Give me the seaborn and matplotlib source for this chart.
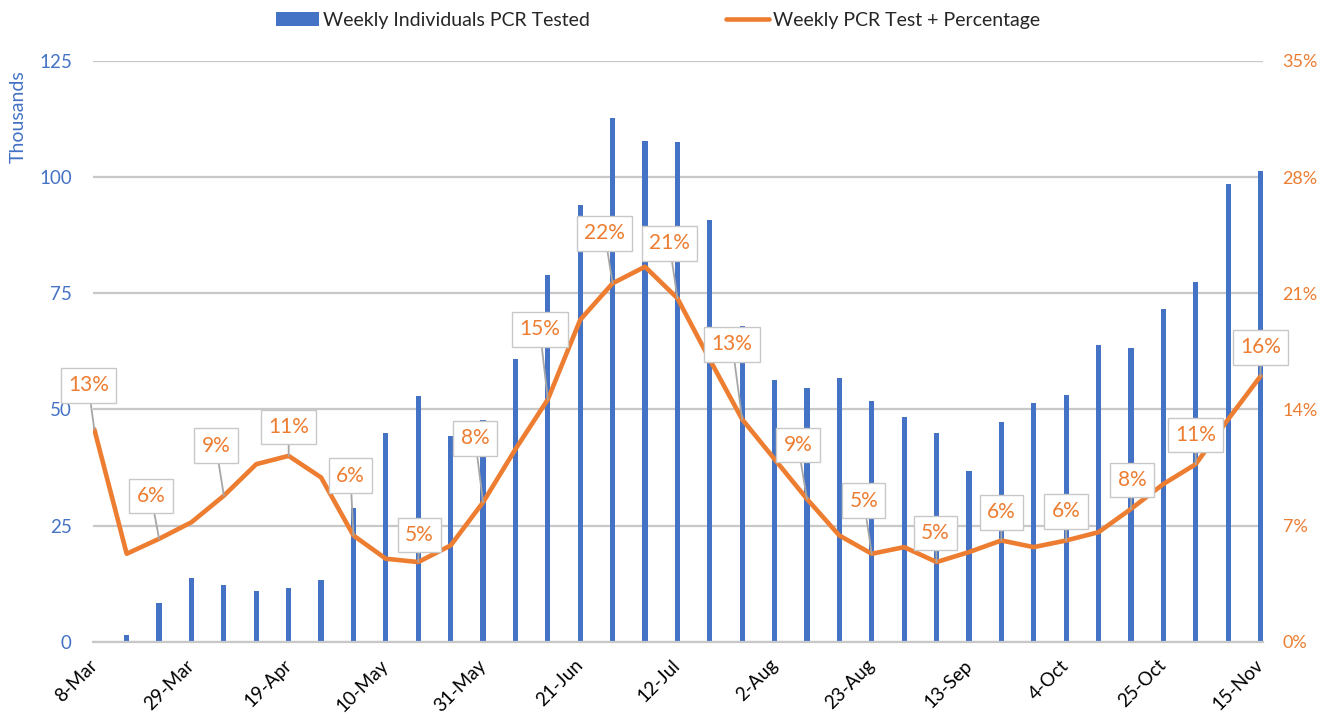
import numpy as np
import pandas as pd
import matplotlib
matplotlib.use("Agg")
import matplotlib.pyplot as plt
import seaborn as sns
from matplotlib.ticker import FuncFormatter

# ---- data ----
weeks = ["8-Mar", "15-Mar", "22-Mar", "29-Mar", "5-Apr", "12-Apr", "19-Apr", "26-Apr",
         "3-May", "10-May", "17-May", "24-May", "31-May", "7-Jun", "14-Jun", "21-Jun",
         "28-Jun", "5-Jul", "12-Jul", "19-Jul", "26-Jul", "2-Aug", "9-Aug", "16-Aug",
         "23-Aug", "30-Aug", "6-Sep", "13-Sep", "20-Sep", "27-Sep", "4-Oct", "11-Oct",
         "18-Oct", "25-Oct", "1-Nov", "8-Nov", "15-Nov"]
tested_thousands = [0.0, 1.4, 8.3, 13.8, 12.3, 10.9, 11.5, 13.2,
                    28.8, 44.9, 52.8, 44.2, 47.8, 60.9, 78.9, 93.9,
                    112.7, 107.7, 107.5, 90.8, 67.9, 56.3, 54.7, 56.7,
                    51.9, 48.4, 45.0, 36.8, 47.2, 51.3, 53.0, 63.8,
                    63.2, 71.6, 77.4, 98.5, 101.3]
positive_pct = [12.8, 5.3, 6.2, 7.2, 8.8, 10.7, 11.2, 9.9,
                6.4, 5.0, 4.8, 5.8, 8.4, 11.6, 14.6, 19.4,
                21.6, 22.6, 20.7, 17.0, 13.4, 11.0, 8.6, 6.4,
                5.3, 5.7, 4.8, 5.4, 6.1, 5.7, 6.1, 6.6,
                8.0, 9.5, 10.7, 13.4, 16.0]
bar_name = "Weekly Individuals PCR Tested"
line_name = "Weekly PCR Test + Percentage"
left_ticks = [0, 25, 50, 75, 100, 125]
right_ticks = [0, 7, 14, 21, 28, 35]

# ---- style ----
BLUE = "#4472C4"
ORANGE = "#ED7D31"
GRID = "#C8C8C8"
# label offsets in pixels (dx, dy) for every other point
label_offsets = [(-6, 44), (-8, 43), (-8, 50), (0, 29), (-3, 60), (1, 27), (-8, 64),
                 (-8, 70), (-8, 50), (-8, 55), (-10, 75), (-9, 54), (-8, 53), (-1, 29),
                 (0, 28), (0, 29), (1, 29), (0, 29), (0, 29)]

sns.set_theme(style="white")
plt.rcParams['font.family'] = ['Lato', 'DejaVu Sans']

fig = plt.figure(figsize=(13.24, 7.25), dpi=100)
ax = fig.add_axes([0.070, 0.1149, 0.884, 0.801])

df = pd.DataFrame({"week": weeks, "tested": tested_thousands,
                   "pct": positive_pct, "idx": np.arange(len(weeks))})

sns.barplot(data=df, x="week", y="tested", order=weeks, color=BLUE, saturation=1,
            width=0.16, linewidth=0, ax=ax, label=bar_name)
if ax.get_legend() is not None:
    ax.get_legend().remove()

ax.set_ylim(0, 125)
ax.set_yticks(left_ticks)
ax.set_axisbelow(True)
ax.yaxis.grid(True, color=GRID, lw=1.6)
ax.xaxis.grid(False)
for s in ["top", "right", "left"]:
    ax.spines[s].set_visible(False)
ax.spines["bottom"].set_color(GRID)
ax.spines["bottom"].set_linewidth(1.6)
ax.tick_params(axis="y", length=0, pad=15, labelsize=13.5, labelcolor=BLUE)
ax.set_xlabel("")
ax.set_ylabel("Thousands", color=BLUE, fontsize=14)
ax.yaxis.set_label_coords(-0.056, 0.905)

ax2 = ax.twinx()
sns.lineplot(data=df, x="idx", y="pct", color=ORANGE, lw=3.3, ax=ax2, label=line_name)
if ax2.get_legend() is not None:
    ax2.get_legend().remove()
ax2.set_ylim(0, 35)
ax2.set_yticks(right_ticks)
ax2.yaxis.set_major_formatter(FuncFormatter(lambda v, p: f"{v:.0f}%"))
ax2.tick_params(axis="y", length=0, pad=14, labelsize=13, labelcolor=ORANGE)
ax2.set_ylabel("")
ax2.set_xlabel("")
for s in ax2.spines.values():
    s.set_visible(False)
ax2.grid(False)

for a in (ax, ax2):
    a.set_xlim(-0.05, 36.08)
ax.set_xticks(np.arange(0, len(weeks), 3))
ax.set_xticklabels(weeks[::3], rotation=45, ha="right", va="center",
                   rotation_mode="anchor", fontsize=13.5, color="black")
ax.tick_params(axis="x", length=0, pad=15)

# data labels
for k, i in enumerate(range(0, len(weeks), 2)):
    v = positive_pct[i]
    dx, dy = label_offsets[k]
    ax2.annotate(f"{int(round(v))}%", xy=(i, v), xytext=(dx, dy),
                 textcoords="offset pixels", ha="center", va="center",
                 color=ORANGE, fontsize=15,
                 bbox=dict(boxstyle="square,pad=0.35", fc="white", ec="#C8C8C8", lw=1),
                 arrowprops=dict(arrowstyle="-", color="#A6A6A6", lw=1.3,
                                 shrinkA=0, shrinkB=0),
                 zorder=5)

h1, l1 = ax.get_legend_handles_labels()
h2, l2 = ax2.get_legend_handles_labels()
fig.legend(h1 + h2, l1 + l2, loc="center", bbox_to_anchor=(0.497, 0.972), ncol=2,
           frameon=False, fontsize=14, handlelength=2.2, columnspacing=7,
           handletextpad=0.2)

fig.savefig("out.png", dpi=100)
